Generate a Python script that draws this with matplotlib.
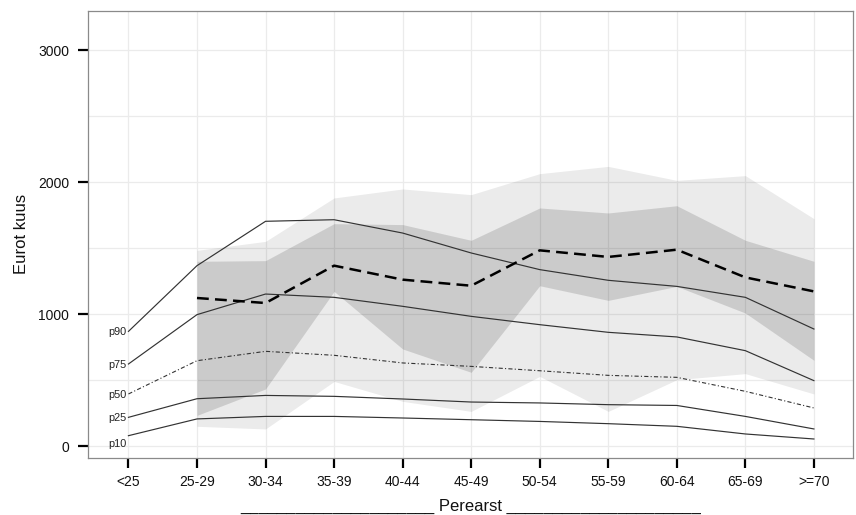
import matplotlib
matplotlib.use("Agg")
import matplotlib.pyplot as plt
from matplotlib.ticker import FixedLocator

plt.rcParams['font.family'] = ['Liberation Sans', 'DejaVu Sans']
plt.rcParams['lines.scale_dashes'] = False

# ---- data ----
categories = ['<25', '25-29', '30-34', '35-39', '40-44', '45-49',
              '50-54', '55-59', '60-64', '65-69', '>=70']
p90 = [871, 1369, 1705, 1717, 1616, 1465, 1339, 1258, 1212, 1129, 889]
p75 = [624, 998, 1154, 1129, 1061, 985, 922, 864, 829, 725, 498]
p50 = [397, 649, 720, 690, 632, 606, 573, 538, 523, 417, 291]
p25 = [220, 361, 386, 379, 359, 336, 329, 316, 310, 227, 132]
p10 = [81, 208, 227, 227, 215, 202, 189, 172, 152, 94, 56]
percentile_labels = ['p90', 'p75', 'p50', 'p25', 'p10']

# series from 25-29 onward
group_categories = categories[1:]
group_mean = [1124, 1086, 1369, 1263, 1217, 1485, 1435, 1490, 1280, 1174]
outer_lo = [152, 132, 492, 341, 265, 530, 265, 505, 551, 397]
outer_hi = [1485, 1553, 1882, 1950, 1907, 2066, 2121, 2015, 2051, 1725]
inner_lo = [235, 435, 1174, 738, 561, 1217, 1106, 1212, 1010, 652]
inner_hi = [1402, 1407, 1687, 1680, 1561, 1806, 1768, 1823, 1561, 1402]

y_major = [0, 1000, 2000, 3000]
y_minor = [500, 1500, 2500]

# ---- figure ----
W, H = 856, 515
fig = plt.figure(figsize=(W / 100, H / 100), dpi=100)
ax = fig.add_axes([88 / W, 1 - 458 / H, (853 - 88) / W, (458 - 11) / H])

xi = list(range(len(categories)))
gi = [categories.index(c) for c in group_categories]

ax.set_axisbelow(True)
ax.fill_between(gi, outer_lo, outer_hi, color='black', alpha=0.08, lw=0, zorder=1)
ax.fill_between(gi, inner_lo, inner_hi, color='black', alpha=0.135, lw=0, zorder=1.1)

solid_kw = dict(color='#333333', lw=0.85, zorder=3)
ax.plot(xi, p90, **solid_kw)
ax.plot(xi, p75, **solid_kw)
ax.plot(xi, p50, color='#333333', lw=0.8, ls=(0, (3.0, 1.6, 0.8, 1.6)), zorder=3)
ax.plot(xi, p25, **solid_kw)
ax.plot(xi, p10, **solid_kw)
ax.plot(gi, group_mean, color='black', lw=1.8, ls=(0, (8.5, 4.5)), zorder=4)

# percentile labels at left of first point
label_offsets_px = [-1, -1, -1, -1, -8]
for lab, series, off in zip(percentile_labels, [p90, p75, p50, p25, p10], label_offsets_px):
    ax.annotate(lab, xy=(xi[0], series[0]), xytext=(-2, off), textcoords='offset pixels',
                ha='right', va='center', fontsize=7.8, color='#222222', zorder=5)

ax.set_xlim(-0.59, 10.57)
ax.set_ylim(-88, 3298)
ax.set_xticks(xi)
ax.set_xticklabels(categories)
ax.yaxis.set_major_locator(FixedLocator(y_major))
ax.yaxis.set_minor_locator(FixedLocator(y_minor))

ax.grid(True, which='major', color='#ebebeb', lw=0.9)
ax.grid(True, which='minor', axis='y', color='#ebebeb', lw=0.9)
ax.tick_params(axis='both', which='major', direction='out', length=7.5, width=1.6,
               color='black', labelsize=10, labelcolor='#111111')
ax.tick_params(axis='x', pad=5)
ax.tick_params(axis='y', pad=6)
ax.tick_params(axis='y', which='minor', length=0)
for s in ax.spines.values():
    s.set_color('#8a8a8a')
    s.set_linewidth(0.9)

fig.text(22 / W, 1 - 234 / H, 'Eurot kuus', rotation=90, ha='center', va='center',
         fontsize=12, color='#111111')
fig.text((88 + 853) / 2 / W, (H - 510.5) / H,
         '_' * 21 + ' Perearst ' + '_' * 21, ha='center', va='baseline',
         fontsize=12, color='#111111')

fig.savefig('out.png', dpi=100)
